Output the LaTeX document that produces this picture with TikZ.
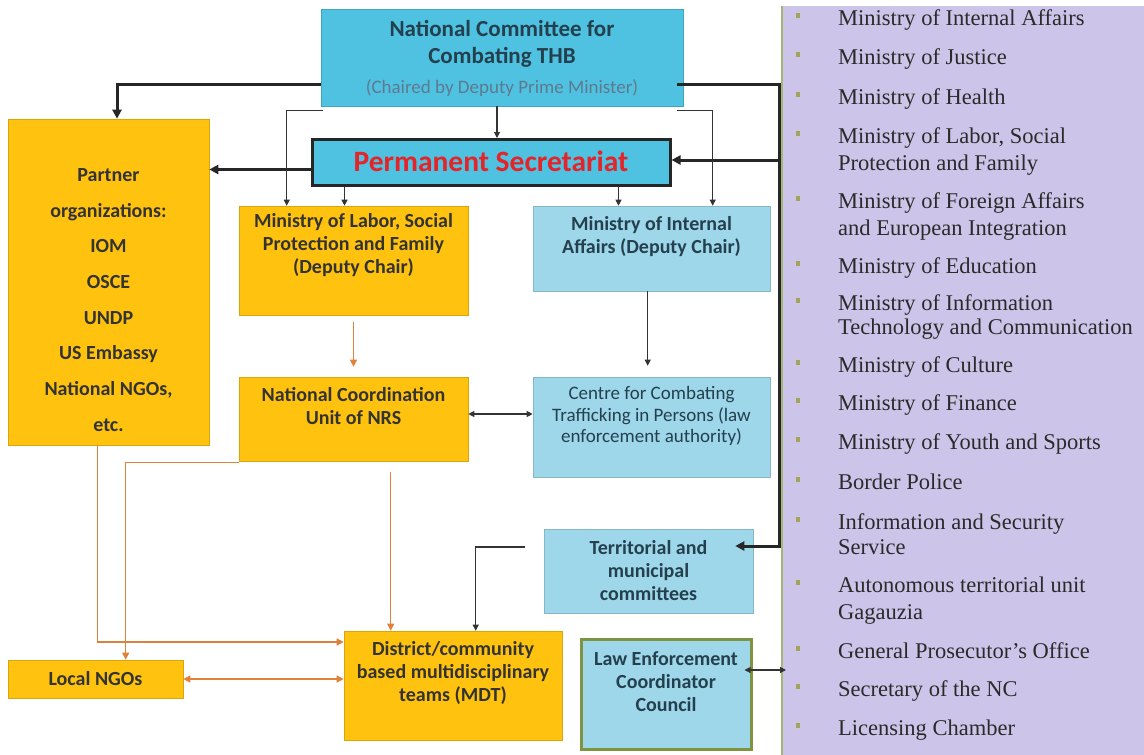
\documentclass[tikz,border=0pt]{standalone}
\usepackage{fontspec}
\setmainfont{Liberation Serif}
\newfontfamily\carl{Carlito}
\usetikzlibrary{arrows.meta,calc}
\definecolor{ncblue}{HTML}{4EC2E0}
\definecolor{lblue}{HTML}{9DD7E9}
\definecolor{ylw}{HTML}{FFC20E}
\definecolor{lav}{HTML}{CDC5E9}
\definecolor{orng}{HTML}{E0823C}
\definecolor{olivec}{HTML}{7F9440}
\definecolor{bult}{HTML}{A3A35A}
\definecolor{ytxt}{HTML}{333333}
\definecolor{btxt}{HTML}{24404E}
\definecolor{chairc}{HTML}{5F7A90}
\definecolor{psred}{HTML}{E52329}
\definecolor{ptxt}{HTML}{2A2A2A}
\newcommand\bxfont{\carl\bfseries\fontsize{20}{23}\selectfont}
\newcommand\itemfont{\fontsize{22.5}{25}\selectfont}
\begin{document}
\begin{tikzpicture}[x=1pt,y=-1pt,
  bxs/.style 2 args={minimum width=#1pt,minimum height=#2pt,inner sep=0pt},
  ybox/.style={fill=ylw,draw=ylw!85!black,line width=0.6pt},
  bbox/.style={fill=lblue,draw=lblue!85!black,line width=0.6pt},
  ytext/.style={text=ytxt,font=\bxfont,align=center,inner sep=0pt},
  btext/.style={text=btxt,font=\bxfont,align=center,inner sep=0pt},
  thk/.style={line width=3pt,black!85,-{Triangle[length=9pt,width=9pt]}},
  thn/.style={line width=1.1pt,black!80,-{Triangle[length=6pt,width=6pt]}},
  org/.style={line width=1.3pt,orng,-{Triangle[length=7pt,width=7pt]}},
  mitem/.style={anchor=base west,font=\itemfont,text=ptxt,inner sep=0pt}]
\useasboundingbox (0,0) rectangle (1144,755);
\fill[white] (0,0) rectangle (1144,755);

% right panel
\node[fill=lav,bxs={362}{749},anchor=north west] (panel) at (782,6) {};
\draw[olivec!70,line width=1.5pt] (panel.north west) -- (panel.south west);
\foreach \y/\t in {18/Ministry of Internal Affairs,57/Ministry of Justice,97/Ministry of Health,
  136/{Ministry of Labor, Social},163/Protection and Family,
  201/Ministry of Foreign Affairs,228/and European Integration,
  266/Ministry of Education,303/Ministry of Information,327/Technology and Communication,
  365/Ministry of Culture,403/Ministry of Finance,442/Ministry of Youth and Sports,
  482/Border Police,522/Information and Security,547/Service,
  585/Autonomous territorial unit,612/Gagauzia,651/General Prosecutor’s Office,
  689/Secretary of the NC,728/Licensing Chamber}
  {\node[mitem] at (838,\y+7) {\t};}
\foreach \y in {18,57,97,136,201,266,303,365,403,442,482,522,585,651,689,728}
  {\fill[bult] (796,\y-5) rectangle (800,\y);}

% boxes
\node[fill=ncblue,draw=ncblue!85!black,line width=0.6pt,bxs={362}{97}] (nc) at (502,57.5) {};
\node[text=btxt,font={\carl\bfseries\fontsize{23}{27}\selectfont},align=center,inner sep=0pt] (nct) at (502,44) {National Committee for\\Combating THB};
\node[text=chairc,font={\carl\fontsize{19}{22}\selectfont},inner sep=0pt] (ncc) at (502,88) {(Chaired by Deputy Prime Minister)};

\node[fill=ncblue,draw=black!85,line width=3pt,bxs={358}{46}] (ps) at (491,162.5) {};
\node[text=psred,font={\carl\bfseries\fontsize{29.5}{32}\selectfont},inner sep=0pt] (pst) at (491,161) {Permanent Secretariat};

\node[ybox,bxs={201}{326}] (partner) at (108.5,282) {};
\node[ytext,font={\carl\bfseries\fontsize{20}{35.7}\selectfont}] (partnert) at (108.5,300)
  {Partner\\organizations:\\IOM\\OSCE\\UNDP\\US Embassy\\National NGOs,\\etc.};

\node[ybox,bxs={229}{109}] (labor) at (353.5,260.5) {};
\node[ytext] (labort) at (353.5,245) {Ministry of Labor, Social\\Protection and Family\\(Deputy Chair)};

\node[bbox,bxs={237}{85}] (mia) at (651.5,248.5) {};
\node[btext] (miat) at (651.5,237) {Ministry of Internal\\Affairs (Deputy Chair)};

\node[ybox,bxs={229}{84}] (ncu) at (353.5,419) {};
\node[ytext] (ncut) at (353.5,406) {National Coordination\\Unit of NRS};

\node[bbox,bxs={237}{100}] (ctip) at (651.5,427) {};
\node[btext,font={\carl\fontsize{19}{21.5}\selectfont}] (ctipt) at (651.5,416) {Centre for Combating\\Trafficking in Persons (law\\enforcement authority)};

\node[bbox,bxs={209}{84}] (terr) at (648.5,571) {};
\node[btext] (terrt) at (648.5,571) {Territorial and\\municipal\\committees};

\node[fill=lblue,draw=olivec,line width=3pt,bxs={170}{110}] (law) at (666,694) {};
\node[btext] (lawt) at (666,682) {Law Enforcement\\Coordinator\\Council};

\node[ybox,bxs={218}{109}] (mdt) at (453,685.5) {};
\node[ytext] (mdtt) at (453,673) {District/community\\based multidisciplinary\\teams (MDT)};

\node[ybox,bxs={175}{38}] (lngo) at (95.5,679) {};
\node[ytext] (lngot) at (95.5,679) {Local NGOs};

% thick connectors
\draw[thk] ($(nc.west)+(0,26.5)$) -| ($(partner.north)+(8.5,0)$);
\coordinate (rc) at (779,546);
\coordinate (bj) at (779,160);
\draw[thk] ($(nc.east)+(-6,26.5)$) -| (rc) -- ($(terr.east)+(-18,-25)$);
\draw[thk] (bj) -- (bj -| ps.east);
\coordinate (p1) at ($(ps.west)+(0,7)$);
\draw[thk] (p1) -- (p1 -| partner.east);

% thin black connectors
\draw[thn] ($(nc.south)+(-5,0)$) -- ($(ps.north)+(6,0)$);
\coordinate (lb) at ($(nc.south west)+(2,4)$);
\draw[thn,line width=0.9pt] (lb) -| ($(labor.north west)+(48,0)$);
\coordinate (a1) at ($(ps.south west)+(34,0)$);
\draw[thn] (a1) -- (a1 |- labor.north);
\coordinate (a2) at ($(ps.south west)+(308,0)$);
\draw[thn] (a2) -- (a2 |- mia.north);
\coordinate (rb) at ($(nc.south east)+(-6,4)$);
\draw[thn,line width=0.9pt] (rb) -| ($(mia.north west)+(180,0)$);
\coordinate (a3) at ($(mia.south west)+(115,0)$);
\draw[thn,shorten >=11pt] (a3) -- (a3 |- ctip.north);
\coordinate (a4) at ($(ncu.east)+(0,-5)$);
\draw[thn,{Triangle[length=6pt,width=6pt]}-{Triangle[length=6pt,width=6pt]}] (a4) -- (a4 -| ctip.west);
\coordinate (a10) at ($(terr.west)+(-19,-24)$);
\draw[thn] (a10) -| ($(mdt.north west)+(132,0)$);
\coordinate (a11) at ($(law.east)+(-8,-24)$);
\draw[thn,{Triangle[length=6pt,width=6pt]}-{Triangle[length=6pt,width=6pt]}] (a11) -- ($(a11 -| panel.west)+(4,0)$);

% orange connectors
\draw[org,shorten <=7pt,shorten >=10pt] (labor.south) -- (ncu.north);
\coordinate (a6) at ($(partner.south west)+(90,0)$);
\draw[org,draw=orng!80!brown] (a6) |- ($(mdt.west)+(0,-43.5)$);
\coordinate (a7) at ($(ncu.south west)+(0,1)$);
\draw[org] (a7) -| ($(lngo.north west)+(118,0)$);
\coordinate (a8) at ($(ncu.south west)+(152,0)$);
\draw[org,shorten <=11pt] (a8) -- (a8 |- mdt.north);
\draw[org,{Triangle[length=7pt,width=7pt]}-{Triangle[length=7pt,width=7pt]}] (lngo.east) -- (lngo.east -| mdt.west);
\end{tikzpicture}
\end{document}
